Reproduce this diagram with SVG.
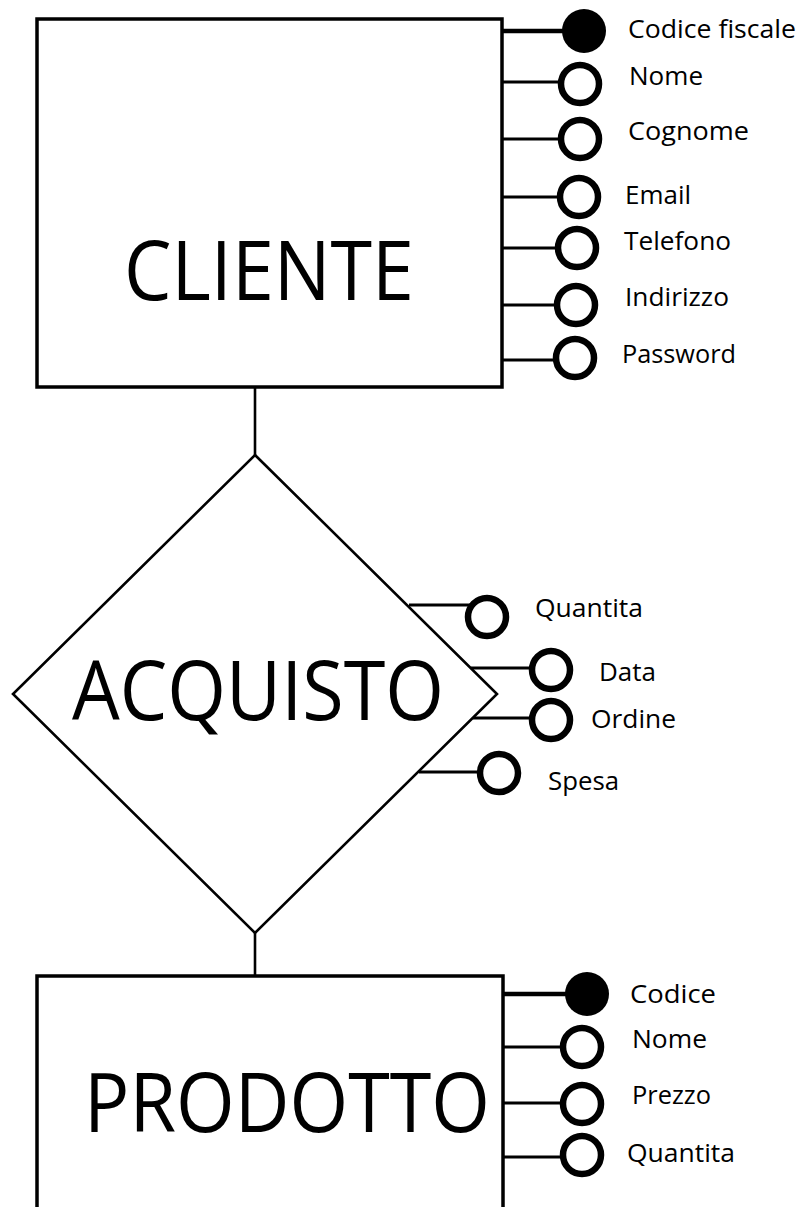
<svg xmlns="http://www.w3.org/2000/svg" width="802" height="1207" viewBox="0 0 802 1207">
<style>
.box{fill:#fff;stroke:#000;stroke-width:3.5}
.dia{fill:#fff;stroke:#000;stroke-width:2.6}
.con{stroke:#000;stroke-width:2.6;fill:none}
.ln{stroke:#000;stroke-width:3;fill:none}
.key{stroke:#000;stroke-width:4.5;fill:none}
.oc{fill:#fff;stroke:#000;stroke-width:6.5}
.fc{fill:#000;stroke:none}
.big{font-family:"Open Sans","Noto Sans",sans-serif;font-size:82px;fill:#000}
.lbl{font-family:"Open Sans","Noto Sans",sans-serif;font-size:25px;fill:#000}
</style>
<rect width="802" height="1207" fill="#fff"/>
<g id="connectors">
<line class="con" x1="255" y1="387" x2="255" y2="456"/>
<line class="con" x1="255" y1="932" x2="255" y2="976"/>
</g>
<g id="cliente">
<rect class="box" x="37" y="19" width="465" height="368"/>
<text class="big" x="124" y="300" textLength="290" lengthAdjust="spacingAndGlyphs">CLIENTE</text>
</g>
<g id="cliente-attrs">
<line class="key" x1="502" y1="31" x2="565" y2="31"/>
<circle class="fc" cx="584" cy="31" r="22"/>
<text class="lbl" x="628" y="38" textLength="168" lengthAdjust="spacingAndGlyphs">Codice fiscale</text>
<line class="ln" x1="502" y1="82" x2="562" y2="82"/>
<circle class="oc" cx="580" cy="84" r="19"/>
<text class="lbl" x="629" y="85" textLength="74" lengthAdjust="spacingAndGlyphs">Nome</text>
<line class="ln" x1="502" y1="139" x2="562" y2="139"/>
<circle class="oc" cx="580" cy="139" r="19"/>
<text class="lbl" x="628" y="140" textLength="121" lengthAdjust="spacingAndGlyphs">Cognome</text>
<line class="ln" x1="502" y1="197" x2="562" y2="197"/>
<circle class="oc" cx="579" cy="197" r="19"/>
<text class="lbl" x="625" y="204" textLength="66" lengthAdjust="spacingAndGlyphs">Email</text>
<line class="ln" x1="502" y1="248" x2="560" y2="248"/>
<circle class="oc" cx="577" cy="248" r="19"/>
<text class="lbl" x="624" y="250" textLength="107" lengthAdjust="spacingAndGlyphs">Telefono</text>
<line class="ln" x1="502" y1="305" x2="558" y2="305"/>
<circle class="oc" cx="576" cy="305" r="19"/>
<text class="lbl" x="625" y="306" textLength="104" lengthAdjust="spacingAndGlyphs">Indirizzo</text>
<line class="ln" x1="502" y1="360" x2="558" y2="360"/>
<circle class="oc" cx="575" cy="358" r="19"/>
<text class="lbl" x="622" y="363" textLength="114" lengthAdjust="spacingAndGlyphs">Password</text>
</g>
<g id="acquisto">
<polygon class="dia" points="255,455 497,694 255,933 13,694"/>
<text class="big" x="72" y="720" textLength="372" lengthAdjust="spacingAndGlyphs">ACQUISTO</text>
</g>
<g id="acquisto-attrs">
<line class="ln" x1="409" y1="605" x2="470" y2="605"/>
<circle class="oc" cx="487" cy="617" r="19"/>
<text class="lbl" x="535" y="617" textLength="108" lengthAdjust="spacingAndGlyphs">Quantita</text>
<line class="ln" x1="471" y1="668" x2="534" y2="668"/>
<circle class="oc" cx="551" cy="670" r="19"/>
<text class="lbl" x="599" y="681" textLength="57" lengthAdjust="spacingAndGlyphs">Data</text>
<line class="ln" x1="473" y1="718" x2="534" y2="718"/>
<circle class="oc" cx="551" cy="720" r="19"/>
<text class="lbl" x="591" y="728" textLength="85" lengthAdjust="spacingAndGlyphs">Ordine</text>
<line class="ln" x1="419" y1="772" x2="482" y2="772"/>
<circle class="oc" cx="499" cy="773" r="19"/>
<text class="lbl" x="548" y="790" textLength="71" lengthAdjust="spacingAndGlyphs">Spesa</text>
</g>
<g id="prodotto">
<rect class="box" x="37" y="976" width="466" height="260"/>
<text class="big" x="84" y="1132" textLength="406" lengthAdjust="spacingAndGlyphs">PRODOTTO</text>
</g>
<g id="prodotto-attrs">
<line class="key" x1="503" y1="994" x2="568" y2="994"/>
<circle class="fc" cx="587" cy="994" r="22"/>
<text class="lbl" x="630" y="1003" textLength="86" lengthAdjust="spacingAndGlyphs">Codice</text>
<line class="ln" x1="503" y1="1047" x2="565" y2="1047"/>
<circle class="oc" cx="582" cy="1047" r="19"/>
<text class="lbl" x="632" y="1048" textLength="75" lengthAdjust="spacingAndGlyphs">Nome</text>
<line class="ln" x1="503" y1="1103" x2="565" y2="1103"/>
<circle class="oc" cx="582" cy="1104" r="19"/>
<text class="lbl" x="632" y="1104" textLength="79" lengthAdjust="spacingAndGlyphs">Prezzo</text>
<line class="ln" x1="503" y1="1157" x2="565" y2="1157"/>
<circle class="oc" cx="582" cy="1155" r="19"/>
<text class="lbl" x="627" y="1162" textLength="108" lengthAdjust="spacingAndGlyphs">Quantita</text>
</g>
</svg>
